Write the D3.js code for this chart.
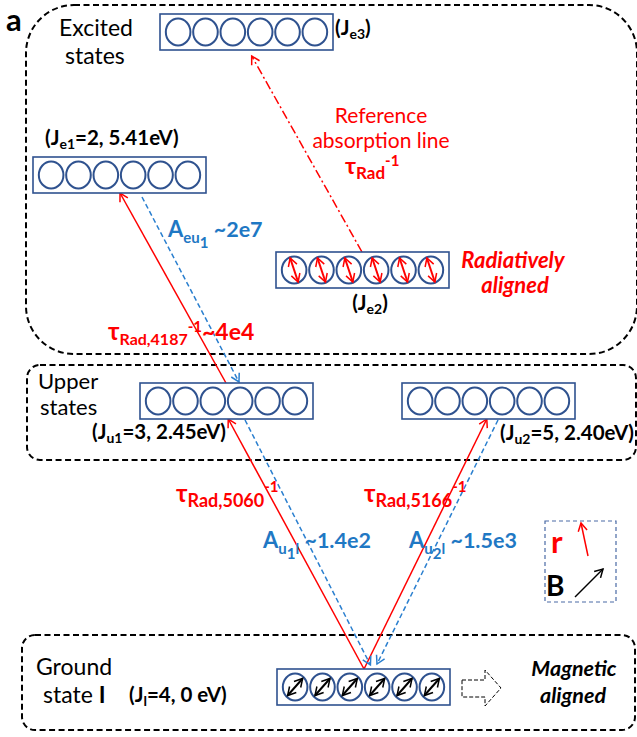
<!DOCTYPE html>
<html><head><meta charset="utf-8">
<script src="https://cdn.jsdelivr.net/npm/d3@7"></script>
<style>
body{margin:0;background:#fff}
svg{display:block;font-family:Lato,'Open Sans',sans-serif}
text{white-space:pre}
</style>
</head><body>
<svg id="c" width="637" height="737"></svg>
<script>
// ---------- data ----------
const sublevels = [0, 1, 2, 3, 4, 5];                 // magnetic sublevels drawn in each level box
const levelIds = ["e3", "e1", "e2", "u1", "u2", "l"];
const levelSub = { e3: "e3", e1: "e1", e2: "e2", u1: "u1", u2: "u2", l: "l" };
const levelJ = { e1: "2", u1: "3", u2: "5", l: "4" };
const levelEnergy = { e1: "5.41eV", u1: "2.45eV", u2: "2.40eV", l: "0 eV" };
const levelAlign = { e2: "radiative", l: "magnetic" };
const groupNames = [["Excited", "states"], ["Upper", "states"], ["Ground", "state "]];
const absorptions = [["l", "u1", "5060"], ["u1", "e1", "4187"], ["l", "u2", "5166"]];
const emissions = [["e1", "u1", "eu", "1", "", "~2e7"], ["u1", "l", "u", "1", "l", "~1.4e2"], ["u2", "l", "u", "2", "l", "~1.5e3"]];
const absRateLabel = ["", "~4e4", ""];
const refLine = ["e2", "e3"];
const refText = ["Reference", "absorption line"];

// ---------- layout (positions / styles) ----------
const RED = "#ff0000", BLUE = "#2a7fcf", BLUET = "#1f78c4", BOX = "#2f528f";
const box = { e3: [160, 14], e1: [33, 157], e2: [276, 252], u1: [140, 383], u2: [402, 383], l: [277, 669] };
const BW = 173, BH = 36;
const svg = d3.select("#c");

const defs = svg.append("defs");
function marker(id, color) {
  defs.append("marker").attr("id", id).attr("viewBox", "-10 -6 12 12")
    .attr("refX", 0).attr("refY", 0).attr("markerWidth", 12).attr("markerHeight", 12)
    .attr("markerUnits", "userSpaceOnUse").attr("orient", "auto-start-reverse")
    .append("path").attr("d", "M-8,-4.5 L0,0 L-8,4.5").attr("fill", "none")
    .attr("stroke", color).attr("stroke-width", 1.5);
}
marker("mr", RED); marker("mb", BLUE); marker("mk", "#000");

// dashed group boxes
const groups = [[26, 5, 611, 349, 48], [27, 365, 609, 95, 13], [22, 635, 613, 95, 13]];
svg.selectAll("rect.grp").data(groups).join("rect").attr("class", "grp")
  .attr("x", d => d[0]).attr("y", d => d[1]).attr("width", d => d[2]).attr("height", d => d[3])
  .attr("rx", d => d[4]).attr("fill", "none").attr("stroke", "#000").attr("stroke-width", 2)
  .attr("stroke-dasharray", "6,3.5");

// group names
const gnPos = [[59, 36, 65, 64, 23], [38, 389, 40, 415, 22], [36, 675, 43, 703, 23]];
groupNames.forEach((n, i) => {
  const t = svg.append("text").attr("font-size", gnPos[i][4]).attr("fill", "#000");
  t.append("tspan").attr("x", gnPos[i][0]).attr("y", gnPos[i][1]).text(n[0]);
  t.append("tspan").attr("x", gnPos[i][2]).attr("y", gnPos[i][3]).text(n[1]);
  if (i === 2) t.append("tspan").attr("font-weight", "bold").text("I");
});
svg.append("text").attr("x", 6).attr("y", 31).attr("font-size", 31).attr("font-weight", "bold").text("a");

// rich text helper
function rich(x, y, parts, o) {
  const t = svg.append("text").attr("x", x).attr("y", y).attr("fill", o.fill)
    .attr("font-weight", o.weight || "bold").attr("font-style", o.style || "normal")
    .attr("font-size", o.size).attr("text-anchor", o.anchor || "start");
  let cur = 0;
  parts.forEach(p => {
    const off = p[2] || 0;
    t.append("tspan").attr("dy", off - cur).attr("font-size", p[1] || o.size).text(p[0]);
    cur = off;
  });
  return t;
}

// ---------- connecting lines ----------
const pt = (id, fx, edge, dy) => [box[id][0] + fx * BW, box[id][1] + (edge === "b" ? BH : 0) + (dy || 0)];
function line(a, b, color, dash, mk) {
  svg.append("line").attr("x1", a[0]).attr("y1", a[1]).attr("x2", b[0]).attr("y2", b[1])
    .attr("stroke", color).attr("stroke-width", 1.5).attr("stroke-dasharray", dash)
    .attr("marker-end", "url(#" + mk + ")");
}
const absAnchors = [[0.503, 0.51], [0.497, 0.503], [0.503, 0.49]];
absorptions.forEach((a, i) => {
  const from = pt(a[0], absAnchors[i][0], "t", 0);
  const to = pt(a[1], absAnchors[i][1], "b", 0);
  line(from, to, RED, null, "mr");
});
const emAnchors = [[0.63, 0.572, 4, -1], [0.607, 0.54, 1, -4], [0.555, 0.578, 1, -5]];
emissions.forEach((e, i) => {
  const from = pt(e[0], emAnchors[i][0], "b", emAnchors[i][2]);
  const to = pt(e[1], emAnchors[i][1], "t", emAnchors[i][3]);
  line(from, to, BLUE, "5,3", "mb");
});
line(pt(refLine[0], 0.497, "t", 0), pt(refLine[1], 0.53, "b", 6), RED, "9,3,2,3", "mr");

// ---------- level boxes ----------
const xs = d3.scaleBand().domain(sublevels).range([5, BW - 5]).paddingInner(0.04);
levelIds.forEach(id => {
  const g = svg.append("g").attr("transform", `translate(${box[id][0]},${box[id][1]})`);
  g.append("rect").attr("width", BW).attr("height", BH).attr("fill", "#fff")
    .attr("stroke", BOX).attr("stroke-width", 1.6);
  g.selectAll("ellipse").data(sublevels).join("ellipse")
    .attr("cx", d => xs(d) + xs.bandwidth() / 2).attr("cy", BH / 2)
    .attr("rx", 12.3).attr("ry", 13.5).attr("fill", "none").attr("stroke", BOX).attr("stroke-width", 2);
  if (levelAlign[id]) {
    const rad = levelAlign[id] === "radiative";
    g.selectAll("line.al").data(sublevels).join("line").attr("class", "al")
      .attr("x1", d => xs(d) + xs.bandwidth() / 2 + (rad ? -4 : -7.5))
      .attr("y1", BH / 2 + (rad ? -12 : 8.5))
      .attr("x2", d => xs(d) + xs.bandwidth() / 2 + (rad ? 4 : 7.5))
      .attr("y2", BH / 2 + (rad ? 12 : -8.5))
      .attr("stroke", rad ? RED : "#000").attr("stroke-width", 2)
      .attr("marker-start", rad ? "url(#mr)" : "url(#mk)").attr("marker-end", rad ? "url(#mr)" : "url(#mk)");
  }
});

// level labels
const lblPos = { e3: [335, 35, "start"], e1: [45, 145, "start"], e2: [370, 310, "middle"],
  u1: [92, 439, "start"], u2: [500, 440, "start"], l: [129, 702, "start"] };
levelIds.forEach(id => {
  const parts = [["(J"], [levelSub[id], 14, 4]];
  if (levelJ[id]) parts.push(["=" + levelJ[id] + ", " + levelEnergy[id] + ")", null, 0]);
  else parts.push([")", null, 0]);
  rich(lblPos[id][0], lblPos[id][1], parts, { fill: "#000", size: 20.5, anchor: lblPos[id][2] });
});

// alignment labels
const ra = svg.append("text").attr("fill", RED).attr("font-weight", "bold").attr("font-style", "italic")
  .attr("font-size", 22).attr("text-anchor", "middle");
ra.append("tspan").attr("x", 513).attr("y", 268).text("Radiatively");
ra.append("tspan").attr("x", 515).attr("y", 293).text("aligned");
const ma = svg.append("text").attr("fill", "#000").attr("font-weight", "bold").attr("font-style", "italic")
  .attr("font-size", 21.5).attr("text-anchor", "middle");
ma.append("tspan").attr("x", 574).attr("y", 676).text("Magnetic");
ma.append("tspan").attr("x", 573).attr("y", 703).text("aligned");

// hollow dashed block arrow
svg.append("path").attr("d", "M462,680 L485,680 L485,670 L501,688 L485,706 L485,697 L462,697 Z")
  .attr("fill", "none").attr("stroke", "#000").attr("stroke-width", 1).attr("stroke-dasharray", "4,2");

// reference line text
const rt = svg.append("text").attr("fill", RED).attr("font-size", 21).attr("text-anchor", "middle");
rt.append("tspan").attr("x", 381).attr("y", 123).text(refText[0]);
rt.append("tspan").attr("x", 381).attr("y", 148).text(refText[1]);
rich(345, 174, [["τ", 23, 0], ["Rad", 17, 5], ["-1", 15, -8]], { fill: RED, size: 23 });

// absorption rate labels
const absLblPos = [[176, 502, 24, 18, -10], [108, 340, 24, 16, -8], [364, 502, 24, 18, -10]];
absorptions.forEach((a, i) => {
  const p = absLblPos[i];
  const parts = [["τ", p[2], 0], ["Rad," + a[2], p[3], 5], ["-1", 15, p[4]]];
  if (absRateLabel[i]) parts.push([absRateLabel[i], 23, 0]);
  rich(p[0], p[1], parts, { fill: RED, size: p[2] });
});

// emission labels
const emLblPos = [[168, 237], [263, 548], [409, 548]];
emissions.forEach((e, i) => {
  const parts = [["A", 22, 0], [e[2], 15, 6], [e[3], 15, 11]];
  if (e[4]) parts.push([e[4], 15, 6]);
  parts.push([" " + e[5], 21.5, 0]);
  rich(emLblPos[i][0], emLblPos[i][1], parts, { fill: BLUET, size: 21.5 });
});

// r / B legend
svg.append("rect").attr("x", 545).attr("y", 521).attr("width", 71).attr("height", 81)
  .attr("fill", "none").attr("stroke", "#4a6aa5").attr("stroke-width", 1.2).attr("stroke-dasharray", "4,3");
svg.append("text").attr("x", 551).attr("y", 553).attr("fill", RED).attr("font-weight", "bold").attr("font-size", 31).text("r");
svg.append("text").attr("x", 546).attr("y", 596).attr("fill", "#000").attr("font-weight", "bold").attr("font-size", 28).text("B");
line([588, 556], [581, 523], RED, null, "mr");
line([575, 597], [603, 569], "#000", null, "mk");
</script>
</body></html>
